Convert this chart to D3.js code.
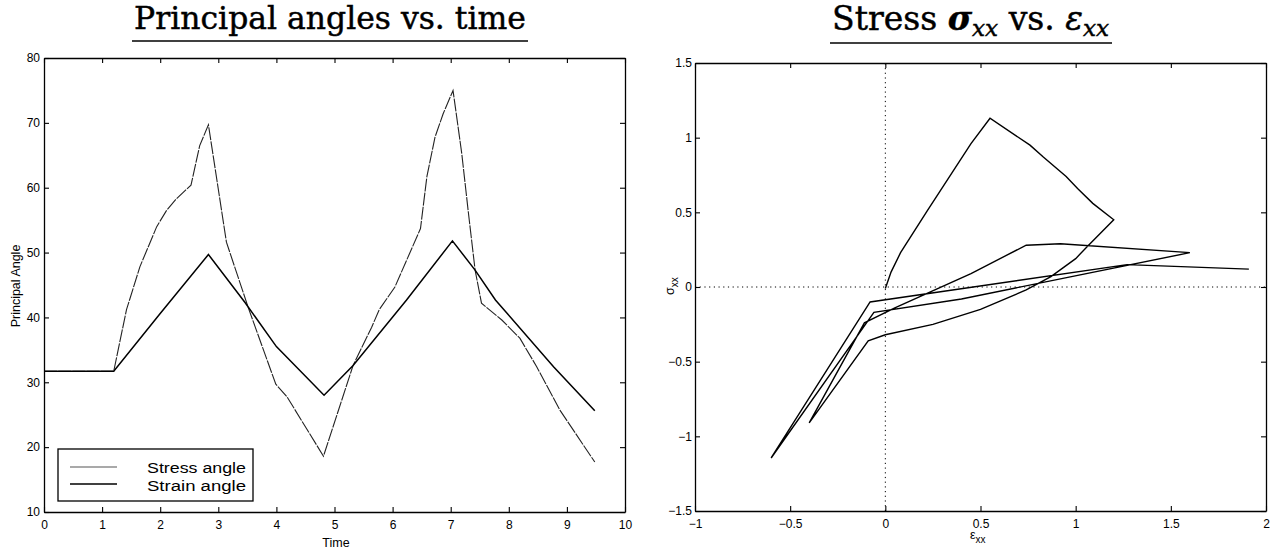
<!DOCTYPE html>
<html>
<head>
<meta charset="utf-8">
<script src="https://cdn.jsdelivr.net/npm/d3@7"></script>
<style>
    body { margin: 0; background: #fff; }
    svg text { font-family: "Liberation Sans", Arial, sans-serif; fill: #000; }
    .serif { font-family: "DejaVu Serif", "Liberation Serif", serif; stroke: #000; stroke-width: 0.45px; }
</style>
</head>
<body>
<svg id="fig" width="1273" height="552"></svg>
<script>
// ---- left panel: principal angles vs. time ----
const stressTime  = [0, 1.2, 1.42, 1.65, 1.94, 2.11, 2.28, 2.53, 2.68, 2.83, 3.14, 3.52, 3.99, 4.18, 4.81,
                     5.32, 5.64, 5.77, 6.04, 6.48, 6.59, 6.73, 6.87, 7.04, 7.19, 7.30, 7.42, 7.53, 7.88,
                     8.19, 8.48, 8.88, 9.48];
const stressAngle = [31.7, 31.7, 41.2, 47.8, 54.0, 56.5, 58.3, 60.4, 66.5, 69.7, 51.6, 41.4, 29.7, 27.8, 18.6,
                     32.6, 38.5, 41.2, 44.7, 53.7, 61.7, 67.8, 71.4, 75.0, 65.3, 56.5, 47.3, 42.2, 39.6,
                     36.8, 32.4, 25.7, 17.7];
const strainTime  = [0, 1.2, 2.0, 2.83, 3.46, 4.0, 4.82, 5.32, 6.24, 7.03, 7.42, 7.77, 8.77, 9.48];
const strainAngle = [31.7, 31.7, 40.6, 49.7, 42.3, 35.5, 28.0, 32.6, 42.7, 51.8, 47.3, 42.7, 32.4, 25.6];
const timeTicks   = [0, 1, 2, 3, 4, 5, 6, 7, 8, 9, 10];
const angleTicks  = [10, 20, 30, 40, 50, 60, 70, 80];
const legendNames = ['Stress angle', 'Strain angle'];

// ---- right panel: stress sigma_xx vs. strain eps_xx (one loading path) ----
const epsXX   = [0.0, 0.03, 0.08, 0.22, 0.45, 0.55, 0.76, 0.83, 0.95, 1.01, 1.09, 1.2, 1.06, 1.0, 0.87, 0.74,
                 0.5, 0.25, 0.0, -0.09, -0.40, -0.11, 0.05, 0.45, 0.74, 0.92, 1.6, 0.4, -0.06, -0.60,
                 -0.08, 1.27, 1.91];
const sigmaXX = [-0.01, 0.10, 0.23, 0.51, 0.96, 1.13, 0.95, 0.87, 0.74, 0.66, 0.56, 0.45, 0.27, 0.19, 0.07, -0.02,
                 -0.15, -0.25, -0.32, -0.36, -0.91, -0.24, -0.14, 0.09, 0.28, 0.29, 0.23, -0.08, -0.17, -1.145,
                 -0.10, 0.15, 0.12];
const epsTicks   = [-1, -0.5, 0, 0.5, 1, 1.5, 2];
const sigmaTicks = [-1.5, -1, -0.5, 0, 0.5, 1, 1.5];

const svg = d3.select('#fig');
svg.append('rect').attr('width', 1273).attr('height', 552).attr('fill', '#fff');

const fmt = v => (v < 0 ? '\u2212' + Math.abs(v) : String(v));

// boxed matlab-style axes with inward ticks on all four sides
function drawFrame(x, y, xTicks, yTicks, yPad) {
    const g = svg.append('g');
    const [x0, x1] = x.range();
    const [y0, y1] = y.range();

    const styleAxis = sel => {
        sel.select('.domain').attr('stroke', '#000').attr('stroke-width', 1.3);
        sel.selectAll('.tick line').attr('stroke', '#000').attr('stroke-width', 1.1);
        sel.selectAll('.tick text').style('font-size', '12px').attr('fill', '#000');
    };

    g.append('g').attr('transform', `translate(0,${y0})`)
        .call(d3.axisBottom(x).tickValues(xTicks).tickFormat(fmt).tickSize(-5).tickSizeOuter(0).tickPadding(8))
        .call(styleAxis);
    g.append('g').attr('transform', `translate(0,${y1})`)
        .call(d3.axisTop(x).tickValues(xTicks).tickFormat('').tickSize(-5).tickSizeOuter(0))
        .call(styleAxis);
    g.append('g').attr('transform', `translate(${x0},0)`)
        .call(d3.axisLeft(y).tickValues(yTicks).tickFormat(fmt).tickSize(-5).tickSizeOuter(0).tickPadding(yPad))
        .call(styleAxis);
    g.append('g').attr('transform', `translate(${x1},0)`)
        .call(d3.axisRight(y).tickValues(yTicks).tickFormat('').tickSize(-5).tickSizeOuter(0))
        .call(styleAxis);
    g.selectAll('.domain').attr('fill', 'none');
    return g;
}

// serif title fitted to a target width, with underline
function drawTitle(x0, x1, baseline, lineY, build) {
    const t = svg.append('text').attr('class', 'serif')
        .attr('x', x0).attr('y', baseline)
        .style('font-size', '24px');
    build(t);
    const w = t.node().getBBox().width;
    t.style('font-size', (24 * (x1 - x0) / w) + 'px');
    svg.append('line')
        .attr('x1', x0 - 2).attr('x2', x1 + 2)
        .attr('y1', lineY).attr('y2', lineY)
        .attr('stroke', '#000').attr('stroke-width', 1.6);
}

// ---------- left panel ----------
const xT = d3.scaleLinear().domain([0, 10]).range([44, 625]);
const yA = d3.scaleLinear().domain([10, 80]).range([512, 58]);

const line = d3.line().x(d => xT(d[0])).y(d => yA(d[1]));

svg.append('path')
    .datum(d3.zip(stressTime, stressAngle))
    .attr('d', line)
    .attr('fill', 'none')
    .attr('stroke', '#222')
    .attr('stroke-width', 1.1)
    .attr('stroke-dasharray', '13,1.2');

svg.append('path')
    .datum(d3.zip(strainTime, strainAngle))
    .attr('d', line)
    .attr('fill', 'none')
    .attr('stroke', '#000')
    .attr('stroke-width', 1.5);

drawFrame(xT, yA, timeTicks, angleTicks, 4);

svg.append('text')
    .attr('x', 336).attr('y', 547)
    .attr('text-anchor', 'middle')
    .style('font-size', '12.5px')
    .text('Time');

svg.append('text')
    .attr('transform', 'translate(20,286) rotate(-90)')
    .attr('text-anchor', 'middle')
    .style('font-size', '12.5px')
    .text('Principal Angle');

// legend
const legend = svg.append('g').attr('transform', 'translate(58,449)');
legend.append('rect')
    .attr('width', 195).attr('height', 52)
    .attr('fill', '#fff').attr('stroke', '#000').attr('stroke-width', 1.3);
legendNames.forEach((name, i) => {
    legend.append('line')
        .attr('x1', 12).attr('x2', 59)
        .attr('y1', 18 + i * 17).attr('y2', 18 + i * 17)
        .attr('stroke', i === 0 ? '#555' : '#000')
        .attr('stroke-width', i === 0 ? 1.1 : 1.5);
    legend.append('text')
        .attr('x', 89).attr('y', 23.5 + i * 18.5)
        .attr('textLength', 99)
        .attr('lengthAdjust', 'spacingAndGlyphs')
        .style('font-size', '15.5px')
        .text(name);
});

drawTitle(134, 526, 29, 41, t => t.text('Principal angles vs. time'));

// ---------- right panel ----------
const xE = d3.scaleLinear().domain([-1, 2]).range([695, 1266]);
const yS = d3.scaleLinear().domain([-1.5, 1.5]).range([511, 63]);

// dotted zero lines
svg.append('line')
    .attr('x1', xE(0)).attr('x2', xE(0))
    .attr('y1', yS(-1.5)).attr('y2', yS(1.5))
    .attr('stroke', '#000').attr('stroke-width', 1).attr('stroke-dasharray', '1.2,3.5');
svg.append('line')
    .attr('x1', xE(-1)).attr('x2', xE(2))
    .attr('y1', yS(0)).attr('y2', yS(0))
    .attr('stroke', '#000').attr('stroke-width', 1).attr('stroke-dasharray', '1.2,3.5');

svg.append('path')
    .datum(d3.zip(epsXX, sigmaXX))
    .attr('d', d3.line().x(d => xE(d[0])).y(d => yS(d[1])))
    .attr('fill', 'none')
    .attr('stroke', '#000')
    .attr('stroke-width', 1.4)
    .attr('stroke-linejoin', 'miter');

drawFrame(xE, yS, epsTicks, sigmaTicks, 3);

const xLab = svg.append('text').attr('x', 970).attr('y', 539).style('font-size', '12.5px');
xLab.append('tspan').text('\u03b5');
xLab.append('tspan').attr('dy', 4).style('font-size', '10px').text('xx');

const yLab = svg.append('text').attr('transform', 'translate(674,295) rotate(-90)').style('font-size', '12.5px');
yLab.append('tspan').text('\u03c3');
yLab.append('tspan').attr('dy', 4).style('font-size', '10px').text('xx');

drawTitle(832, 1110, 30, 43, t => {
    t.append('tspan').text('Stress ');
    t.append('tspan').style('font-style', 'italic').style('font-weight', 'bold').text('\u03c3');
    t.append('tspan').style('font-style', 'italic').style('font-size', '0.7em').attr('dy', '0.25em').text('xx');
    t.append('tspan').attr('dy', '-0.175em').text(' vs. ');
    t.append('tspan').style('font-style', 'italic').text('\u03b5');
    t.append('tspan').style('font-style', 'italic').style('font-size', '0.7em').attr('dy', '0.25em').text('xx');
});
</script>
</body>
</html>
